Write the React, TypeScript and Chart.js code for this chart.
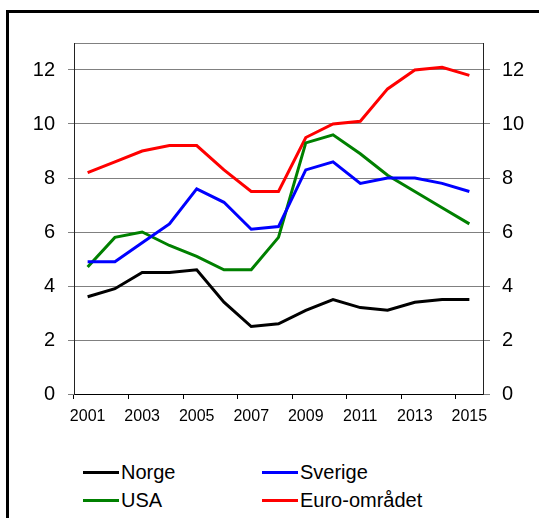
import React, { useEffect, useRef } from "react";
import { Chart, registerables } from "chart.js";

Chart.register(...registerables);

const years = ["2001","2002","2003","2004","2005","2006","2007","2008","2009","2010","2011","2012","2013","2014","2015"];
const norge = [3.6, 3.9, 4.5, 4.5, 4.6, 3.4, 2.5, 2.6, 3.1, 3.5, 3.2, 3.1, 3.4, 3.5, 3.5];
const sverige = [4.9, 4.9, 5.6, 6.3, 7.6, 7.1, 6.1, 6.2, 8.3, 8.6, 7.8, 8.0, 8.0, 7.8, 7.5];
const usa = [4.7, 5.8, 6.0, 5.5, 5.1, 4.6, 4.6, 5.8, 9.3, 9.6, 8.9, 8.1, 7.5, 6.9, 6.3];
const euro = [8.2, 8.6, 9.0, 9.2, 9.2, 8.3, 7.5, 7.5, 9.5, 10.0, 10.1, 11.3, 12.0, 12.1, 11.8];
const yTicks = [0, 2, 4, 6, 8, 10, 12];
const yTop = 13;

const series = [
  { label: "Norge", data: norge, color: "#000000" },
  { label: "Sverige", data: sverige, color: "#0000FF" },
  { label: "USA", data: usa, color: "#008000" },
  { label: "Euro-området", data: euro, color: "#FF0000" },
];

const FONT = "'Liberation Sans', Arial, sans-serif";

export default function App() {
  const ref = useRef<HTMLCanvasElement | null>(null);

  useEffect(() => {
    if (!ref.current) return;
    const setTicks = (scale: any) => {
      scale.ticks = [...yTicks, yTop].map((v) => ({ value: v }));
    };
    const yCommon = (side: "left" | "right", tickLen: number, pad: number, width: number, onArea: boolean) => ({
      type: "linear" as const,
      position: side,
      min: 0,
      max: yTop,
      afterBuildTicks: setTicks,
      afterFit: (s: any) => { s.width = width; },
      grid: {
        drawOnChartArea: onArea,
        color: "#808080",
        lineWidth: 1,
        tickLength: tickLen,
        tickColor: (ctx: any) => (ctx.tick && ctx.tick.value === yTop ? "rgba(0,0,0,0)" : "#808080"),
      },
      border: { display: true, color: "#222222", width: 1 },
      ticks: {
        padding: pad,
        color: "#000",
        font: { family: FONT, size: 20 },
        callback: (v: any) => (v === yTop ? "" : String(v)),
      },
    });

    const chart = new Chart(ref.current, {
      type: "line",
      data: {
        labels: years,
        datasets: series.map((s) => ({
          label: s.label,
          data: s.data,
          borderColor: s.color,
          backgroundColor: s.color,
          borderWidth: 3,
          pointRadius: 0,
          tension: 0,
          fill: false,
          yAxisID: "y",
        })),
      },
      options: {
        animation: false,
        responsive: false,
        devicePixelRatio: 1,
        layout: { padding: { top: 43, left: 0, right: 0, bottom: 0 } },
        plugins: { legend: { display: false }, tooltip: { enabled: false } },
        scales: {
          x: {
            type: "category",
            offset: true,
            afterFit: (s: any) => { s.height = 36; },
            grid: {
              offset: true,
              drawOnChartArea: false,
              tickLength: 5,
              color: (ctx: any) => (ctx.index % 2 === 0 ? "#000" : "rgba(0,0,0,0)"),
              tickColor: (ctx: any) => (ctx.index % 2 === 0 ? "#000" : "rgba(0,0,0,0)"),
            },
            border: { display: true, color: "#000", width: 1 },
            ticks: {
              autoSkip: false,
              maxRotation: 0,
              minRotation: 0,
              padding: 8,
              color: "#000",
              font: { family: FONT, size: 16 },
              callback: (_v: any, i: number) => (i % 2 === 0 ? years[i] : ""),
            },
          },
          y: yCommon("left", 6, 13, 74, true),
          y1: yCommon("right", 7, 12, 56, false),
        },
      },
    });
    return () => chart.destroy();
  }, []);

  return (
    <div style={{ position: "fixed", left: 0, top: 0, width: 539, height: 518, overflow: "hidden", background: "#fff" }}>
      <div
        style={{
          position: "absolute",
          left: 6,
          top: 10,
          width: 700,
          height: 700,
          borderLeft: "3px solid #000",
          borderTop: "3px solid #000",
        }}
      />
      <canvas ref={ref} width={539} height={430} style={{ position: "absolute", left: 0, top: 0, width: 539, height: 430 }} />
      <div
        style={{
          position: "absolute",
          left: 83,
          top: 458,
          display: "grid",
          gridTemplateColumns: "179px 179px",
          gridAutoRows: "28px",
          fontFamily: FONT,
          fontSize: 20,
          color: "#000",
        }}
      >
        {series.map((s) => (
          <div key={s.label} style={{ display: "flex", alignItems: "center", whiteSpace: "nowrap" }}>
            <span style={{ display: "inline-block", width: 36, height: 3, background: s.color, marginRight: 2 }} />
            <span>{s.label}</span>
          </div>
        ))}
      </div>
    </div>
  );
}
